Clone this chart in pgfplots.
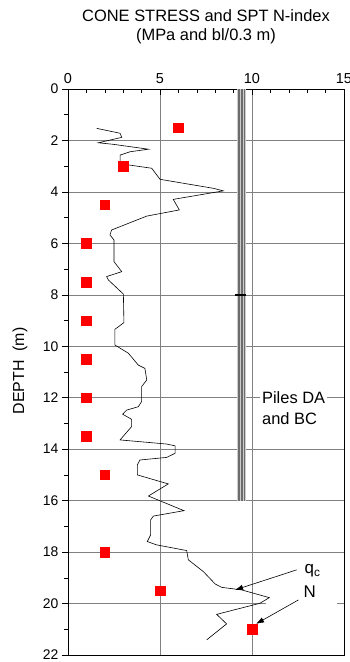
\documentclass[border=0pt]{standalone}
\usepackage{pgfplots}
\pgfplotsset{compat=1.18}
\usetikzlibrary{arrows.meta}
\usepackage{fontspec}
\setmainfont{Liberation Sans}
\begin{document}
\begin{tikzpicture}
\useasboundingbox (-68bp,-7bp) rectangle (282bp,655bp);
\begin{axis}[
 at={(0,0)}, anchor=south west,
 scale only axis, width=276bp, height=566bp,
 xmin=0, xmax=15, ymin=0, ymax=22, y dir=reverse,
 xtick={0,5,10,15}, ytick={0,2,...,22},
 minor x tick num=4, minor y tick num=1,
 xtick pos=right, xticklabel pos=right, ytick pos=left,
 xtick align=inside, ytick align=outside,
 major tick length=6bp, minor tick length=4bp,
 xmajorgrids, ymajorgrids,
 major grid style={gray, line width=0.6bp},
 axis line style={black, line width=0.8bp},
 tick style={black, line width=0.6bp},
 xticklabel style={font=\fontsize{14.5}{16}\selectfont, yshift=2bp},
 yticklabel style={font=\fontsize{14}{16}\selectfont},
 /pgf/number format/assume math mode=true,
 clip=false,
]
% piles
\addplot[fill=gray!40, draw=none] coordinates {(9.19,0) (9.69,0) (9.69,16) (9.19,16)} -- cycle;
\addplot[gray!85!black, line width=1.6bp] coordinates {(9.30,0) (9.30,16)};
\addplot[gray!85!black, line width=1.6bp] coordinates {(9.45,0) (9.45,16)};
\addplot[gray!85!black, line width=1.6bp] coordinates {(9.60,0) (9.60,16)};
\addplot[black, line width=1.8bp] coordinates {(9.09,8) (9.69,8)};
% labels with white boxes
\node[fill=white, anchor=west, align=left, inner sep=2bp, font=\fontsize{16.5}{21.5}\selectfont] at (axis cs:10.43,12.4) {Piles DA\\and BC};
\fill[white] (axis cs:10.75,19.85) rectangle (axis cs:14.6,20.15);
\node[anchor=west, inner sep=0pt, font=\fontsize{17}{19}\selectfont] at (axis cs:12.85,18.73) {q\textsubscript{c}};
\node[anchor=west, inner sep=0pt, font=\fontsize{17}{19}\selectfont] at (axis cs:12.80,19.55) {N};
% cone stress
\addplot[black, line width=0.6bp] coordinates {
(1.56,1.53) (2.83,1.72) (2.92,1.88) (1.65,2.09) (2.46,2.15) (4.37,2.34)
(3.37,2.44) (2.83,2.57) (2.83,2.89) (3.28,2.95) (4.55,3.08) (5.0,3.51)
(7.90,3.86) (8.44,3.96) (5.72,4.29) (6.05,4.70) (4.28,4.94) (2.37,5.48)
(2.28,5.67) (2.50,5.87) (2.50,6.71) (2.92,7.10) (2.10,7.29) (2.19,7.42)
(3.01,7.97) (3.04,9.08) (2.55,9.34) (2.55,9.95) (3.28,10.27) (3.82,10.73)
(4.18,10.86) (4.28,11.31) (4.0,11.57) (4.0,12.15) (3.82,12.35) (3.19,12.48)
(2.97,12.64) (3.46,12.84) (3.46,13.12) (2.83,13.64) (5.36,13.80) (5.82,13.87)
(5.82,14.16) (5.36,14.32) (3.91,14.42) (3.77,14.61) (3.77,15.0) (5.45,15.35)
(4.37,15.82) (6.30,16.39) (4.64,16.6) (4.49,16.75) (4.49,17.33) (4.31,17.59)
(4.82,17.72) (6.45,17.94) (6.54,18.3) (7.36,18.76) (8.0,19.24) (8.35,19.37)
(9.44,19.47) (10.94,19.77) (10.43,19.99) (8.08,20.42) (8.62,20.79) (7.54,21.41)
};
% SPT N
\addplot[only marks, mark=square*, mark size=4.8pt, color=red, mark options={fill=red, draw=red}] coordinates {
(6,1.5) (3,3) (2,4.5) (1,6) (1,7.5) (1,9) (1,10.5) (1,12) (1,13.5) (2,15) (2,18) (5,19.5) (10,21)
};
% arrows
\draw[-{Latex[length=8bp,width=5.5bp]}, line width=0.6bp] (axis cs:12.43,18.69) -- (axis cs:9.08,19.47);
\draw[-{Latex[length=8bp,width=5.5bp]}, line width=0.6bp] (axis cs:12.52,19.86) -- (axis cs:10.22,20.79);
\end{axis}
\node[anchor=base, font=\fontsize{16.5}{19}\selectfont] at (138bp,633bp) {CONE STRESS and SPT N-index};
\node[anchor=base, font=\fontsize{16.5}{19}\selectfont] at (138bp,614bp) {(MPa and bl/0.3 m)};
\node[rotate=90, font=\fontsize{16}{19}\selectfont] at (-48bp,284bp) {DEPTH\ \ (m)};
\end{tikzpicture}
\end{document}
